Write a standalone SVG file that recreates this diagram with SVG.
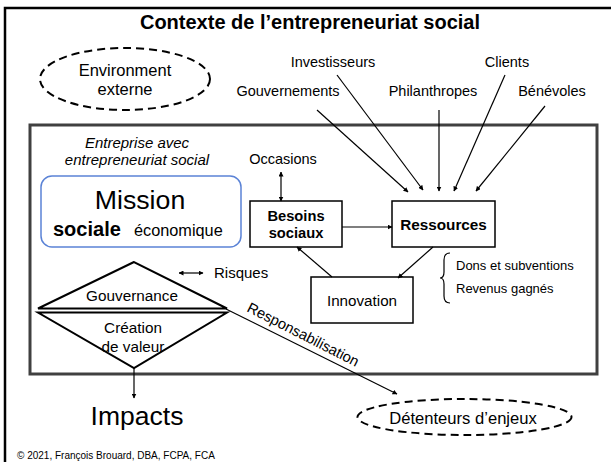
<svg xmlns="http://www.w3.org/2000/svg" width="611" height="462" viewBox="0 0 611 462">
<style>
text{font-family:"Liberation Sans",Arial,sans-serif;fill:#000}
.c{text-anchor:middle}
.b{font-weight:bold}
.box{fill:#fff;stroke:#000;stroke-width:1.5}
.ln{stroke:#000;stroke-width:1.2;fill:none}
.dash{fill:none;stroke:#000;stroke-width:2;stroke-dasharray:8,5}
</style>
<defs>
<marker id="ah" viewBox="0 0 10 10" refX="9" refY="5" markerWidth="5" markerHeight="5" orient="auto-start-reverse" markerUnits="userSpaceOnUse"><path d="M0,0L10,5L0,10z" fill="#000"/></marker>
</defs>
<rect x="0" y="0" width="611" height="462" fill="#fff"/>
<rect id="frame" x="5" y="8" width="640" height="480" fill="none" stroke="#000" stroke-width="2.5"/>
<text class="c b" x="310" y="29" font-size="20">Contexte de l’entrepreneuriat social</text>
<g id="environment">
<ellipse class="dash" cx="125" cy="79" rx="85" ry="31"/>
<text class="c" x="125" y="76" font-size="16.5">Environment</text>
<text class="c" x="125" y="95" font-size="16.5">externe</text>
</g>
<g id="stakeholders" font-size="14.5">
<text class="c" x="333" y="67">Investisseurs</text>
<text class="c" x="288" y="96">Gouvernements</text>
<text class="c" x="433" y="96">Philanthropes</text>
<text class="c" x="507" y="67">Clients</text>
<text class="c" x="552" y="96">Bénévoles</text>
</g>
<g id="enterprise">
<rect x="30" y="125" width="567" height="249" fill="none" stroke="#404040" stroke-width="3"/>
<text class="c" x="137" y="148" font-size="15" font-style="italic">Entreprise avec</text>
<text class="c" x="137" y="165" font-size="15" font-style="italic">entrepreneuriat social</text>
</g>
<g id="mission">
<rect x="41" y="176" width="200" height="71" rx="11" fill="#fff" stroke="#5b83d6" stroke-width="1.5"/>
<text class="c" x="140" y="209" font-size="26.7">Mission</text>
<text class="b" x="53" y="236" font-size="20">sociale</text>
<text x="134" y="236" font-size="16.3">économique</text>
</g>
<g id="occasions"><text class="c" x="283" y="164" font-size="14.5">Occasions</text></g>
<g id="besoins">
<rect class="box" x="250" y="201" width="92" height="46"/>
<text class="c b" x="296" y="221" font-size="14.7">Besoins</text>
<text class="c b" x="296" y="238" font-size="14.7">sociaux</text>
</g>
<g id="ressources">
<rect class="box" x="392" y="201" width="103" height="46"/>
<text class="c b" x="443.5" y="230" font-size="15.3">Ressources</text>
</g>
<g id="innovation">
<rect class="box" x="311" y="277" width="102" height="46"/>
<text class="c" x="362" y="306" font-size="15.2">Innovation</text>
</g>
<g id="revenus">
<path class="ln" d="M450,253 Q444,253 444,260 L444,272 Q444,278 440,278 Q444,278 444,284 L444,296 Q444,303 450,303" stroke-width="1"/>
<text x="456" y="270" font-size="13">Dons et subventions</text>
<text x="456" y="293" font-size="13">Revenus gagnés</text>
</g>
<g id="risques"><text x="214" y="278" font-size="15">Risques</text></g>
<g id="gouvernance">
<path d="M134,262 L38,308.5 L227,308.5 Z" fill="#fff" stroke="#000" stroke-width="2" stroke-linejoin="miter"/>
<path d="M38,312.5 L227,312.5 L134,368 Z" fill="none" stroke="#000" stroke-width="2"/>
<text class="c" x="132" y="301" font-size="15.3">Gouvernance</text>
<text class="c" x="133" y="333" font-size="15.3">Création</text>
<text class="c" x="133" y="352" font-size="15.3">de valeur</text>
</g>
<g id="impacts"><text class="c" x="137" y="425" font-size="26.5">Impacts</text></g>
<g id="detenteurs">
<ellipse class="dash" cx="464.5" cy="417" rx="107" ry="18"/>
<text class="c" x="463" y="424" font-size="16.6">Détenteurs d’enjeux</text>
</g>
<g id="connectors">
<line class="ln" x1="317" y1="110" x2="408" y2="192" marker-end="url(#ah)"/>
<line class="ln" x1="337" y1="75" x2="423" y2="190" marker-end="url(#ah)"/>
<line class="ln" x1="439" y1="110" x2="439" y2="191" marker-end="url(#ah)"/>
<line class="ln" x1="505" y1="75" x2="454" y2="191" marker-end="url(#ah)"/>
<line class="ln" x1="545" y1="106" x2="476" y2="191" marker-end="url(#ah)"/>
<line class="ln" x1="281" y1="172" x2="281" y2="201" marker-start="url(#ah)" marker-end="url(#ah)"/>
<line class="ln" x1="342" y1="227" x2="392" y2="227" marker-end="url(#ah)"/>
<line class="ln" x1="433" y1="247" x2="398" y2="278" marker-end="url(#ah)"/>
<line class="ln" x1="332" y1="277" x2="297" y2="247" marker-end="url(#ah)"/>
<line class="ln" x1="179" y1="273" x2="203" y2="273" marker-start="url(#ah)" marker-end="url(#ah)"/>
<line class="ln" x1="134" y1="368" x2="134" y2="398" marker-end="url(#ah)"/>
<line class="ln" x1="226" y1="309" x2="397" y2="394" marker-end="url(#ah)"/>
<text x="246" y="311" font-size="14.7" transform="rotate(27 246 311)">Responsabilisation</text>
</g>
<text x="17" y="459" font-size="10">© 2021, François Brouard, DBA, FCPA, FCA</text>
</svg>
